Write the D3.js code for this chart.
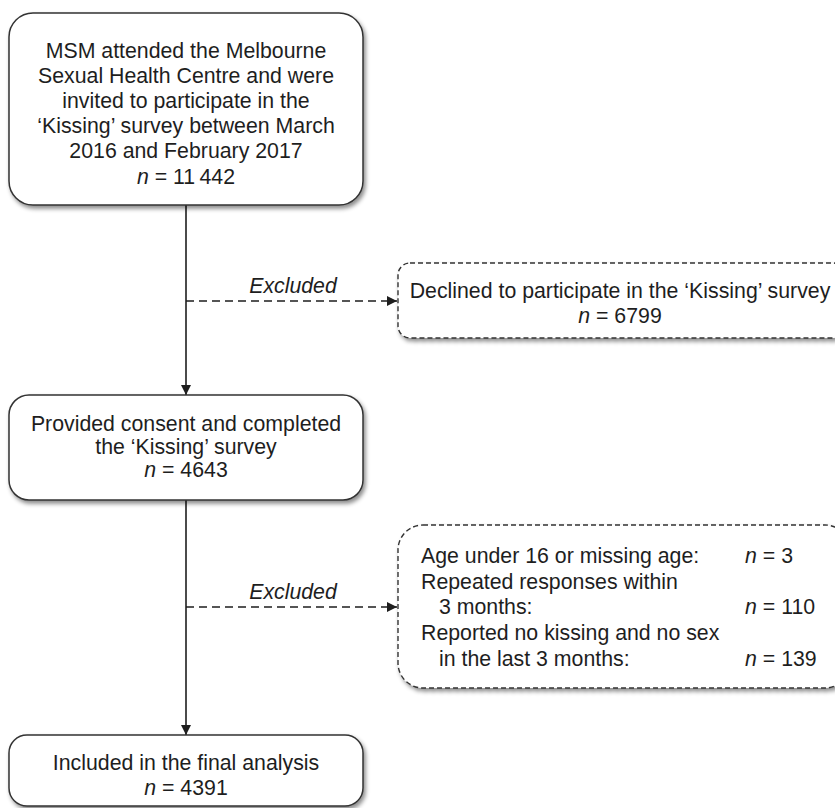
<!DOCTYPE html>
<html>
<head>
<meta charset="utf-8">
<script src="https://cdn.jsdelivr.net/npm/d3@7"></script>
<style>
  html, body { margin: 0; padding: 0; background: #fff; }
  svg { display: block; }
  text { font-family: "Liberation Sans", Arial, Helvetica, sans-serif; fill: #1e1e1e; }
</style>
</head>
<body>
<div id="chart"></div>
<script>
// ---------- data ----------
const mainStepLabels = [
  ["MSM attended the Melbourne", "Sexual Health Centre and were", "invited to participate in the", "\u2018Kissing\u2019 survey between March", "2016 and February 2017"],
  ["Provided consent and completed", "the \u2018Kissing\u2019 survey"],
  ["Included in the final analysis"]
];
const mainStepCounts = ["11\u2009442", "4643", "4391"];
const exclusionLabel = "Excluded";
const declinedLabels = ["Declined to participate in the \u2018Kissing\u2019 survey"];
const declinedCounts = ["6799"];
const exclusionReasons = [
  ["Age under 16 or missing age:"],
  ["Repeated responses within", "3 months:"],
  ["Reported no kissing and no sex", "in the last 3 months:"]
];
const exclusionReasonCounts = ["3", "110", "139"];

// ---------- layout ----------
const W = 835, H = 808;
const FS = 21.3;
const svg = d3.select("#chart").append("svg").attr("width", W).attr("height", H);
svg.append("rect").attr("width", W).attr("height", H).attr("fill", "#fff");

const defs = svg.append("defs");
const f = defs.append("filter").attr("id", "shadow").attr("x", "-5%").attr("y", "-5%").attr("width", "115%").attr("height", "125%");
f.append("feDropShadow").attr("dx", 2).attr("dy", 3).attr("stdDeviation", 2)
  .attr("flood-color", "#000").attr("flood-opacity", 0.45);
defs.append("marker").attr("id", "arrow").attr("viewBox", "0 0 10 10")
  .attr("refX", 10).attr("refY", 5).attr("markerWidth", 10).attr("markerHeight", 10)
  .attr("markerUnits", "userSpaceOnUse").attr("orient", "auto")
  .append("path").attr("d", "M0,0 L10,5 L0,10 Z").attr("fill", "#1e1e1e");

const cx = 186;
const mainBoxes = [
  {x0: 9, x1: 363, y0: 13, y1: 205, r: 24, base: 57.5, step: 25.2},
  {x0: 9, x1: 363, y0: 395, y1: 500, r: 20, base: 431, step: 23},
  {x0: 9, x1: 363, y0: 735, y1: 806, r: 18, base: 769.5, step: 25}
];

// vertical connectors (solid)
const vLinks = [[205, 395], [500, 735]];
svg.selectAll("line.v").data(vLinks).join("line")
  .attr("x1", cx).attr("x2", cx).attr("y1", d => d[0]).attr("y2", d => d[1])
  .attr("stroke", "#1e1e1e").attr("stroke-width", 1.6).attr("marker-end", "url(#arrow)");

// main boxes
const mg = svg.selectAll("g.main").data(mainStepLabels).join("g");
mg.append("rect")
  .attr("x", (d, i) => mainBoxes[i].x0).attr("y", (d, i) => mainBoxes[i].y0)
  .attr("width", (d, i) => mainBoxes[i].x1 - mainBoxes[i].x0)
  .attr("height", (d, i) => mainBoxes[i].y1 - mainBoxes[i].y0)
  .attr("rx", (d, i) => mainBoxes[i].r)
  .attr("fill", "#fff").attr("stroke", "#333").attr("stroke-width", 1.5)
  .attr("filter", "url(#shadow)");
mg.each(function(lines, i) {
  const b = mainBoxes[i];
  const g = d3.select(this);
  const all = lines.concat([null]);
  all.forEach((ln, j) => {
    const t = g.append("text").attr("x", cx).attr("y", b.base + j * b.step)
      .attr("text-anchor", "middle").attr("font-size", FS);
    if (ln === null) {
      t.append("tspan").attr("font-style", "italic").text("n");
      t.append("tspan").text(" = " + mainStepCounts[i]);
    } else t.text(ln);
  });
});

// dashed exclusion arrows
const exY = [301, 607];
svg.selectAll("line.ex").data(exY).join("line")
  .attr("x1", cx).attr("x2", 397).attr("y1", d => d).attr("y2", d => d)
  .attr("stroke", "#1e1e1e").attr("stroke-width", 1.6).attr("stroke-dasharray", "8,5")
  .attr("marker-end", "url(#arrow)");
svg.selectAll("text.exl").data(exY).join("text")
  .attr("x", 293).attr("y", d => d - 8).attr("text-anchor", "middle")
  .attr("font-size", FS).attr("font-style", "italic").text(exclusionLabel);

// dashed boxes
const dBoxes = [
  {x0: 398, x1: 845, y0: 263, y1: 338, r: 12},
  {x0: 398, x1: 850, y0: 525, y1: 688, r: 25}
];
svg.selectAll("rect.d").data(dBoxes).join("rect")
  .attr("x", d => d.x0).attr("y", d => d.y0).attr("width", d => d.x1 - d.x0).attr("height", d => d.y1 - d.y0)
  .attr("rx", d => d.r).attr("fill", "#fff").attr("stroke", "#333").attr("stroke-width", 1.4)
  .attr("stroke-dasharray", "5,3").attr("filter", "url(#shadow)");

// declined box text
const dg = svg.append("g");
declinedLabels.forEach((ln, j) => {
  dg.append("text").attr("x", 620).attr("y", 298 + j * 25).attr("text-anchor", "middle")
    .attr("font-size", FS).text(ln);
});
const dn = dg.append("text").attr("x", 620).attr("y", 298 + declinedLabels.length * 25)
  .attr("text-anchor", "middle").attr("font-size", FS);
dn.append("tspan").attr("font-style", "italic").text("n");
dn.append("tspan").text(" = " + declinedCounts[0]);

// exclusion reasons
const rg = svg.append("g");
let row = 0;
const rBase = 563, rStep = 25.7, rx = 421, indent = 18, nx = 745;
exclusionReasons.forEach((lines, i) => {
  lines.forEach((ln, j) => {
    rg.append("text").attr("x", rx + (j > 0 ? indent : 0)).attr("y", rBase + row * rStep)
      .attr("font-size", FS).text(ln);
    if (j === lines.length - 1) {
      const t = rg.append("text").attr("x", nx).attr("y", rBase + row * rStep).attr("font-size", FS);
      t.append("tspan").attr("font-style", "italic").text("n");
      t.append("tspan").text(" = " + exclusionReasonCounts[i]);
    }
    row++;
  });
});
</script>
</body>
</html>
